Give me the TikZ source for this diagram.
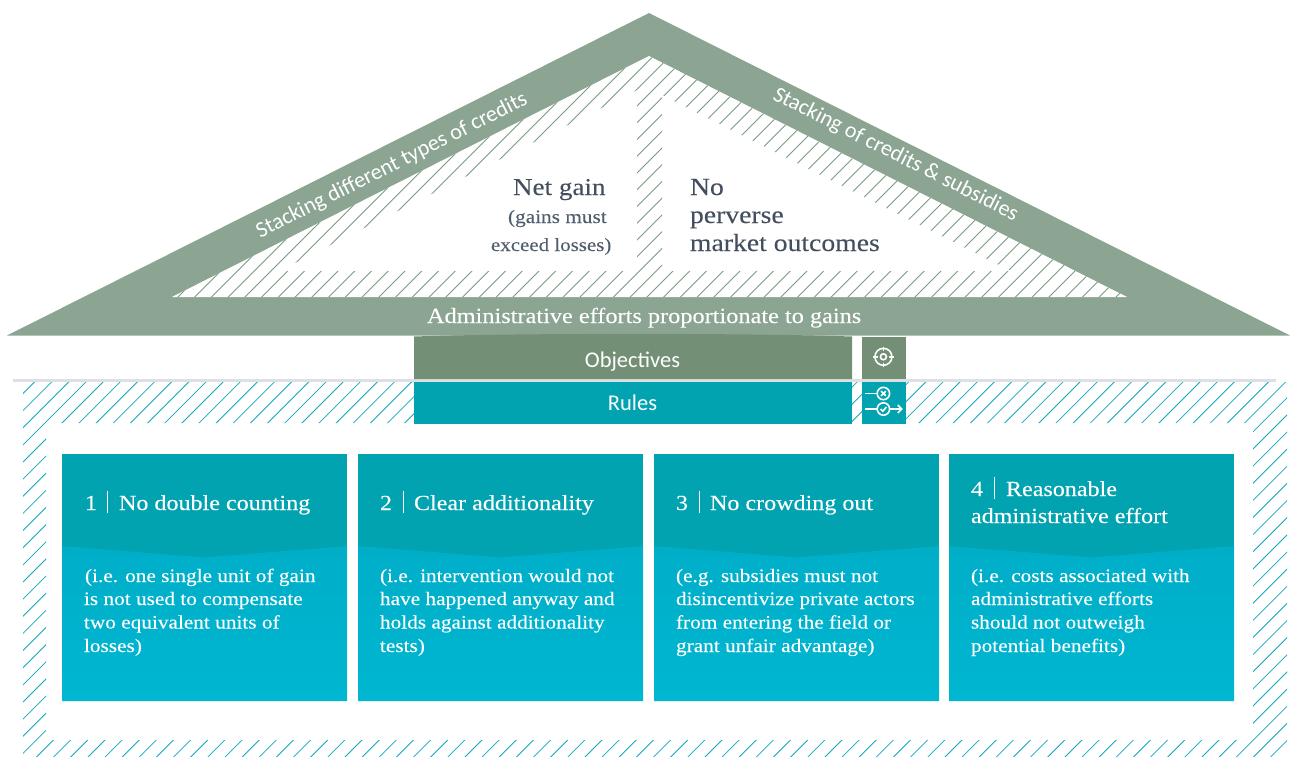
\documentclass[tikz,border=0pt]{standalone}
\usepackage{fontspec}
\setmainfont{Liberation Serif}[FakeStretch=1.12,FakeBold=0.08]
\newfontfamily\labelfont{Carlito}
\definecolor{roofgreen}{HTML}{8BA592}
\definecolor{hatchgreen}{HTML}{7C9A85}
\definecolor{objgreen}{HTML}{739076}
\definecolor{tealdark}{HTML}{00A3AF}
\definecolor{tealhatch}{HTML}{12A9BA}
\definecolor{tealmidtop}{HTML}{00AEC8}
\definecolor{tealmidbot}{HTML}{00B6D1}
\definecolor{slate}{HTML}{434F5F}
\definecolor{slatesub}{HTML}{515E6D}
\definecolor{greyline}{HTML}{DCDFE4}
\tikzset{
  txt/.style={anchor=base west,inner sep=0pt,outer sep=0pt},
  ctxt/.style={anchor=base,inner sep=0pt,outer sep=0pt},
  bodytxt/.style={txt,text=white,font=\fontsize{19}{19}\selectfont},
  titletxt/.style={txt,text=white,font=\fontsize{21.5}{21.5}\selectfont},
  icon/.style={white,line width=1.6pt},
}
\begin{document}
\begin{tikzpicture}[x=1pt,y=-1pt]
\useasboundingbox (0,0) rectangle (1290,757);
% roof
\fill[roofgreen] (649,13) -- (1290,335.5) -- (7,335.5) -- cycle;
\fill[white] (649,56) -- (1127,297) -- (172,297) -- cycle;
\begin{scope}[even odd rule]
\clip (649,56) -- (1127,297) -- (172,297) -- cycle
  (279,271) -- (637,90) -- (637,271) -- cycle
  (662,95) -- (1011,271) -- (662,271) -- cycle;
\foreach \i in {-6,...,55}{
  \pgfmathsetmacro{\c}{542+16.75*\i}
  \draw[hatchgreen,line width=0.8pt] (\c-40,40) -- (\c-300,300);
}
\end{scope}
% lower hatching
\begin{scope}[even odd rule]
\clip (23,382) rectangle (1287,757) (46,423) rectangle (1253,740);
\foreach \i in {-6,...,93}{
  \pgfmathsetmacro{\c}{485+17.14*\i}
  \draw[tealhatch,line width=0.8pt] (\c-370,370) -- (\c-770,770);
}
\end{scope}
\fill[greyline] (13,379) rectangle (1276,382);
% bars
\fill[objgreen] (414,336.5) .. controls (520,333) and (746,333) .. (852,336.5) -- (852,379) -- (414,379) -- cycle;
\fill[tealdark] (414,382) rectangle (852,424);
\fill[objgreen] (862,337) rectangle (906,379);
\fill[tealdark] (862,382) rectangle (906,424);
% roof texts
\node[txt,text=white,font=\fontsize{21.7}{21.7}\selectfont] (admin) at (427,323) {Administrative efforts proportionate to gains};
\node[ctxt,text=white,font=\labelfont\fontsize{22.2}{22.2}\selectfont,rotate=26.7] (leftlabel) at (394.5,171) {Stacking different types of credits};
\node[ctxt,text=white,font=\labelfont\fontsize{22.2}{22.2}\selectfont,rotate=-26.7] (rightlabel) at (893,160) {Stacking of credits \& subsidies};
\node[txt,text=slate,font=\fontsize{24.2}{24.2}\selectfont] (net) at (513,195) {Net gain};
\node[txt,text=slatesub,font=\fontsize{19}{19}\selectfont] (net2) at (508,223) {(gains must};
\node[txt,text=slatesub,font=\fontsize{18.7}{18.7}\selectfont] (net3) at (491,251) {exceed losses)};
\node[txt,text=slate,font=\fontsize{24.7}{24.7}\selectfont] (no1) at (690,195) {No};
\node[txt,text=slate,font=\fontsize{24.7}{24.7}\selectfont] (no2) at (690,223) {perverse};
\node[txt,text=slate,font=\fontsize{24.7}{24.7}\selectfont] (no3) at (690,251) {market outcomes};
\node[ctxt,text=white,font=\labelfont\fontsize{22.5}{22.5}\selectfont] (obj) at (632.5,367) {Objectives};
\node[ctxt,text=white,font=\labelfont\fontsize{22.5}{22.5}\selectfont] (rules) at (632.5,410) {Rules};
% target icon
\draw[icon] (883.4,356.8) circle[radius=8.5pt];
\draw[icon] (883.4,356.8) circle[radius=3pt];
\draw[icon] (883.4,346.5) -- (883.4,351) (883.4,362.6) -- (883.4,367) (873.2,356.8) -- (877.6,356.8) (889.2,356.8) -- (893.6,356.8);
% rules icon
\draw[icon] (865,393.5) -- (877,393.5);
\draw[icon] (883.4,393.5) circle[radius=6.2pt];
\draw[icon] (881,391.1) -- (885.8,395.9) (885.8,391.1) -- (881,395.9);
\draw[icon] (865,409) -- (877,409);
\draw[icon] (883.4,409) circle[radius=6.2pt];
\draw[icon] (880.6,409) -- (882.8,411.2) -- (886.4,407);
\draw[icon] (889.6,409) -- (901.6,409);
\draw[icon] (897.8,405) -- (901.8,409) -- (897.8,413);
% cards
\foreach \n/\x/\tx in {1/62/85,2/358/380,3/654/676,4/949/971}{
  \fill[tealdark] (\x,454) rectangle (\x+285,560);
  \shade[top color=tealmidtop,bottom color=tealmidbot] (\x,546) -- (\x+142.5,557.5) -- (\x+285,546) -- (\x+285,701) -- (\x,701) -- cycle;
}
% card 1
\node[titletxt] (n1) at (85,510) {1};
\draw[white,line width=0.5pt] (107.5,491) -- (107.5,513);
\node[titletxt] (t1) at (119,510) {No double counting};
\node[bodytxt] (b1a) at (85,582) {(i.e. one single unit of gain};
\node[bodytxt] (b1b) at (84,605) {is not used to compensate};
\node[bodytxt] (b1c) at (84,628.5) {two equivalent units of};
\node[bodytxt] (b1d) at (84,652) {losses)};
% card 2
\node[titletxt] (n2) at (380,510) {2};
\draw[white,line width=0.5pt] (403,491) -- (403,513);
\node[titletxt] (t2) at (414,510) {Clear additionality};
\node[bodytxt] (b2a) at (380,582) {(i.e. intervention would not};
\node[bodytxt] (b2b) at (380,605) {have happened anyway and};
\node[bodytxt] (b2c) at (380,628.5) {holds against additionality};
\node[bodytxt] (b2d) at (380,652) {tests)};
% card 3
\node[titletxt] (n3) at (676,510) {3};
\draw[white,line width=0.5pt] (699,491) -- (699,513);
\node[titletxt] (t3) at (710,510) {No crowding out};
\node[bodytxt] (b3a) at (676,582) {(e.g. subsidies must not};
\node[bodytxt] (b3b) at (676,605) {disincentivize private actors};
\node[bodytxt] (b3c) at (676,628.5) {from entering the field or};
\node[bodytxt] (b3d) at (676,652) {grant unfair advantage)};
% card 4
\node[titletxt] (n4) at (971,496) {4};
\draw[white,line width=0.5pt] (994,477) -- (994,499);
\node[titletxt] (t4) at (1006,496) {Reasonable};
\node[titletxt] (t4b) at (971,523) {administrative effort};
\node[bodytxt] (b4a) at (971,582) {(i.e. costs associated with};
\node[bodytxt] (b4b) at (971,605) {administrative efforts};
\node[bodytxt] (b4c) at (971,628.5) {should not outweigh};
\node[bodytxt] (b4d) at (971,652) {potential benefits)};
\end{tikzpicture}
\end{document}
